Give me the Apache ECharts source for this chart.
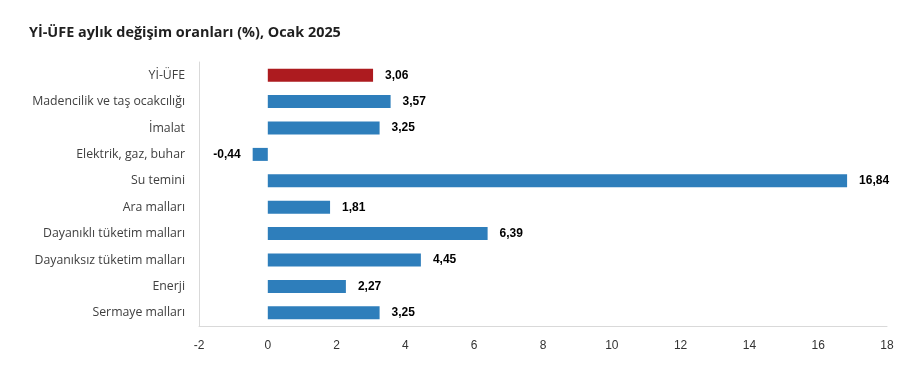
<!DOCTYPE html>
<html><head><meta charset="utf-8">
<script src="https://cdn.jsdelivr.net/npm/echarts@6/dist/echarts.min.js"></script>
<style>html,body{margin:0;padding:0;background:#fff}#c{width:924px;height:366px}</style>
</head><body><div id="c"></div>
<script>
const categories = ["Yİ-ÜFE","Madencilik ve taş ocakcılığı","İmalat","Elektrik, gaz, buhar","Su temini","Ara malları","Dayanıklı tüketim malları","Dayanıksız tüketim malları","Enerji","Sermaye malları"];
const values = [3.06,3.57,3.25,-0.44,16.84,1.81,6.39,4.45,2.27,3.25];
const highlightIndex = 0;
const chart = echarts.init(document.getElementById('c'));
chart.setOption({
  animation:false,
  title:{text:"Yİ-ÜFE aylık değişim oranları (%), Ocak 2025",left:24,top:21,
    textStyle:{fontFamily:"Open Sans",fontWeight:"bold",fontSize:14.4,color:"#1f1f1f"}},
  grid:{left:199,right:37,top:62,bottom:40,containLabel:false},
  xAxis:{type:"value",min:-2,max:18,interval:2,
    axisLine:{show:true,lineStyle:{color:"#d9d9d9"}},axisTick:{show:false},
    splitLine:{show:false},
    axisLabel:{color:"#333",fontFamily:"Liberation Sans Narrow, Liberation Sans",fontSize:12,margin:14}},
  yAxis:{type:"category",data:categories,inverse:true,
    axisLine:{show:true,onZero:false,lineStyle:{color:"#d9d9d9"}},axisTick:{show:false},
    axisLabel:{color:"#404040",fontFamily:"Open Sans",fontSize:12.3,margin:14}},
  series:[{type:"bar",barWidth:13,
    data:values.map((v,i)=>({value:v,itemStyle:{color:i===highlightIndex?"#ad1b1f":"#2e7ebb"},
      label:{position:v<0?"left":"right"}})),
    label:{show:true,position:"right",distance:12,color:"#000",fontWeight:"bold",fontFamily:"Liberation Sans",fontSize:12,
      formatter:p=>p.value.toFixed(2).replace('.',',')}
  }]
});
</script></body></html>
